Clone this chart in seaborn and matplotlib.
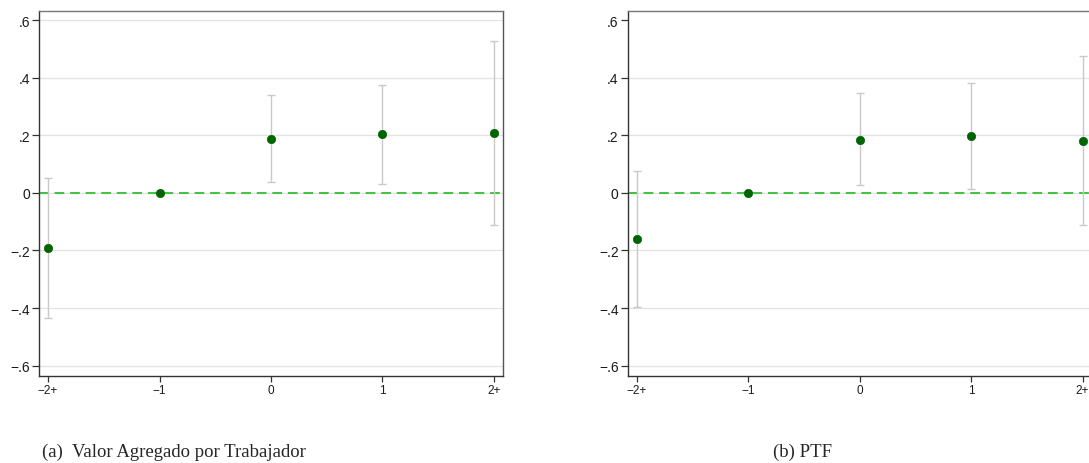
import numpy as np
import pandas as pd
import matplotlib
matplotlib.use("Agg")
import matplotlib.pyplot as plt
import seaborn as sns

# ---- data ----
periods = ["−2+", "−1", "0", "1", "2+"]
va_coef = [-0.192, 0.0, 0.188, 0.203, 0.207]
va_lo = [-0.436, 0.0, 0.037, 0.030, -0.113]
va_hi = [0.052, 0.0, 0.339, 0.375, 0.528]
ptf_coef = [-0.160, 0.0, 0.185, 0.198, 0.182]
ptf_lo = [-0.395, 0.0, 0.026, 0.013, -0.113]
ptf_hi = [0.076, 0.0, 0.346, 0.382, 0.477]
yticks = [-0.6, -0.4, -0.2, 0.0, 0.2, 0.4, 0.6]
ytick_labels = ["−.6", "−.4", "−.2", "0", ".2", ".4", ".6"]
captions = ["(a)  Valor Agregado por Trabajador", "(b) PTF"]

sns.set_theme(style="white")
plt.rcParams["font.family"] = ["Liberation Sans", "DejaVu Sans"]

W, H = 1089, 464
fig = plt.figure(figsize=(W / 100, H / 100), dpi=100)

def px_axes(x0, x1, y0, y1):
    return fig.add_axes([x0 / W, 1 - y1 / H, (x1 - x0) / W, (y1 - y0) / H])

panels = [
    (px_axes(39, 502.5, 12, 377), va_coef, va_lo, va_hi, True),
    (px_axes(627.7, 1091.2, 12, 377), ptf_coef, ptf_lo, ptf_hi, False),
]

for ax, coef, lo, hi, top_grid in panels:
    df = pd.DataFrame({"pos": np.arange(len(periods)), "coef": coef,
                       "lo": lo, "hi": hi})
    ci = df[df["hi"] != df["lo"]]
    for y in yticks:
        if y == 0.6 and not top_grid:
            continue
        ax.axhline(y, color="#e2e2e2", lw=0.9, zorder=0)
    ax.axhline(0, color="#3dc43d", lw=1.4, ls=(0, (5, 3)), zorder=1)
    ax.errorbar(ci["pos"], ci["coef"],
                yerr=[ci["coef"] - ci["lo"], ci["hi"] - ci["coef"]],
                fmt="none", ecolor="#c9c9c9", elinewidth=1.0,
                capsize=3.2, capthick=1.0, zorder=2)
    sns.scatterplot(data=df, x="pos", y="coef", ax=ax, color="#006400",
                    s=36, edgecolor="#006400", linewidth=0.5, zorder=3,
                    legend=False)
    ax.set_xlim(-0.081, 4.077)
    ax.set_ylim(-0.636, 0.632)
    ax.set_xticks(range(len(periods)))
    ax.set_xticklabels(periods, fontsize=8.5, color="#1a1a1a")
    ax.set_yticks(yticks)
    ax.set_yticklabels(ytick_labels, fontsize=10, color="#1a1a1a")
    ax.set_xlabel("")
    ax.set_ylabel("")
    ax.tick_params(axis="y", length=5, width=0.9, color="#333333",
                   pad=1.5, left=True)
    ax.tick_params(axis="x", length=4, width=0.9, color="#333333",
                   pad=2, bottom=True)
    for s in ax.spines.values():
        s.set_color("#333333")
        s.set_linewidth(1.0)
    ax.spines["top"].set_color("#777777")
    ax.spines["right"].set_color("#555555")

fig.text(42 / W, 1 - 457 / H, captions[0], family="Liberation Serif",
         fontsize=13.5, ha="left", va="baseline")
fig.text(773 / W, 1 - 457 / H, captions[1], family="Liberation Serif",
         fontsize=13.5, ha="left", va="baseline")

fig.savefig("out.png", dpi=100)
